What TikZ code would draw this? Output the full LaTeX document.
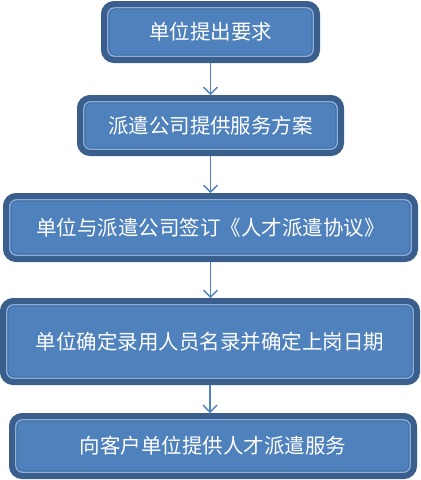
\documentclass[tikz,border=0pt]{standalone}
\usepackage{fontspec}
\newfontfamily\cjk{Noto Sans CJK SC}
\usetikzlibrary{arrows.meta}
\definecolor{boxfill}{HTML}{4F81BD}
\definecolor{boxedge}{HTML}{3A5F8D}
\definecolor{boxlight}{HTML}{8EAEDA}
\definecolor{boxinner}{HTML}{41689B}
\begin{document}
\begin{tikzpicture}[x=1pt, y=1pt,
  stage/.style={draw=boxedge, fill=boxfill, line width=6pt, rounded corners=10pt,
    outer sep=0pt, inner sep=0pt, text=white, font=\cjk\fontsize{20.5}{23}\selectfont},
  flow/.style={draw=boxfill, line width=1.6pt, shorten <=3pt, shorten >=3pt,
    -{Straight Barb[length=7pt,width=14pt,line width=1.4pt]}}]
\useasboundingbox (0,0) rectangle (421,-480);
\node[stage, minimum width=213pt, minimum height=56pt] (s1) at (210.5,-32) {单位提出要求};
\node[stage, minimum width=261pt, minimum height=55pt] (s2) at (210.5,-125.5) {派遣公司提供服务方案};
\node[stage, minimum width=409pt, minimum height=63pt] (s3) at (210.5,-227.5) {单位与派遣公司签订《人才派遣协议》};
\node[stage, minimum width=414pt, minimum height=81pt] (s4) at (210,-341.5) {单位确定录用人员名录并确定上岗日期};
\node[stage, minimum width=402pt, minimum height=60pt] (s5) at (213,-446) {向客户单位提供人才派遣服务};
% inner rims
\foreach \s in {s1,s2,s3,s4,s5} {
  \draw[boxlight, line width=1.3pt, rounded corners=7pt]
    ([xshift=3.8pt,yshift=-3.8pt]\s.north west) rectangle ([xshift=-3.8pt,yshift=3.8pt]\s.south east);
  \draw[boxinner, line width=0.8pt, rounded corners=6pt]
    ([xshift=5pt,yshift=-5pt]\s.north west) rectangle ([xshift=-5pt,yshift=5pt]\s.south east);
}
% arrows
\draw[flow] (s1.south) -- (s1.south |- s2.north);
\draw[flow] (s2.south) -- (s2.south |- s3.north);
\draw[flow] (s3.south) -- (s3.south |- s4.north);
\draw[flow] (s4.south) -- (s4.south |- s5.north);
\end{tikzpicture}
\end{document}
